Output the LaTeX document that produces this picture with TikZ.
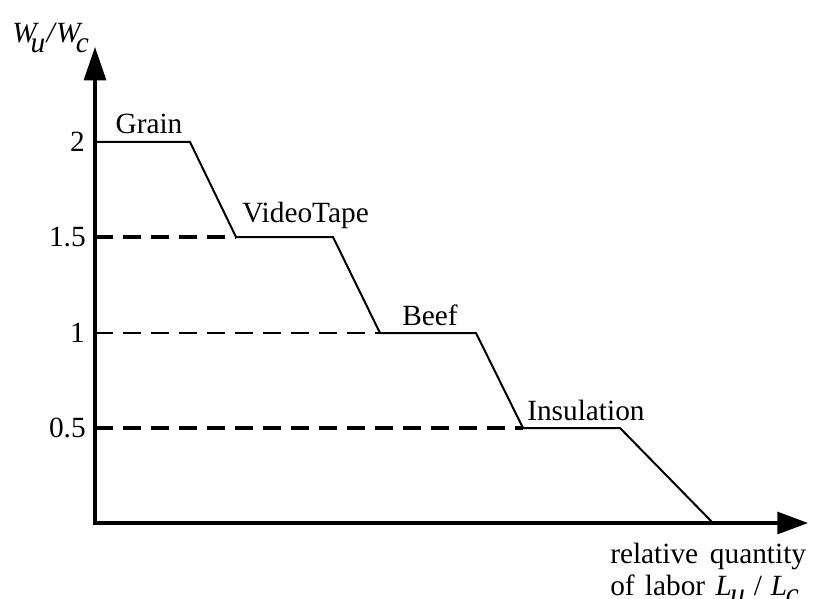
\documentclass[tikz,border=0pt]{standalone}
\usepackage{fontspec}
\setmainfont{Liberation Serif}
\usetikzlibrary{arrows.meta}
\begin{document}
\begin{tikzpicture}[x=0.75pt,y=-0.75pt,
  axis/.style={line width=2.3pt,line join=miter,{Triangle[length=25pt,width=16.5pt]}-{Triangle[length=23pt,width=16.5pt]}},
  curve/.style={line width=1.5pt,line join=miter},
  guide/.style={line width=2.8pt,dash pattern=on 13.5pt off 7.5pt},
  guidethin/.style={line width=1.9pt,dash pattern=on 13.5pt off 7.5pt},
  lbl/.style={font=\fontsize{22}{26}\selectfont,inner sep=0pt},
]
\useasboundingbox (0,0) rectangle (814,599);
% axes
\coordinate (O) at (95,523);
\coordinate (ytop) at (95,47);
\coordinate (xend) at (808,523);
\draw[axis] (ytop) -- (O) -- (xend);
% curve corners
\coordinate (g0) at (95,142);
\coordinate (g1) at (190,142);
\coordinate (v0) at (236,237);
\coordinate (v1) at (333,237);
\coordinate (b0) at (380,333);
\coordinate (b1) at (476,333);
\coordinate (i0) at (523,428);
\coordinate (i1) at (620,428);
\coordinate (e)  at (713,523);
\draw[curve] (g0) -- (g1) -- (v0) -- (v1) -- (b0) -- (b1) -- (i0) -- (i1) -- (e);
% dashed guides
\coordinate (d15) at (95,237);
\coordinate (d1) at (95,333);
\coordinate (d05) at (95,428);
\draw[guide] (d15) -- (v0);
\draw[guidethin] (d1) -- (b0);
\draw[guide] (d05) -- (i0);
% tick labels
\node[lbl,anchor=east] (t2) at (85,142) {2};
\node[lbl,anchor=east] (t15) at (86,237) {1.5};
\node[lbl,anchor=east] (t1) at (85,333) {1};
\node[lbl,anchor=east] (t05) at (86,428) {0.5};
% segment labels
\node[lbl,anchor=base] (grain) at (149,134) {Grain};
\node[lbl,anchor=base west] (video) at (242,223) {VideoTape};
\node[lbl,anchor=base west] (beef) at (402,325) {Beef};
\node[lbl,anchor=base west] (insul) at (527,420) {Insulation};
% axis labels
\node[lbl,anchor=base west] (ylab) at (12,43) {\itshape W\kern-4.5pt\raisebox{-7.5pt}{u}\kern1pt/\kern1pt W\kern-3.5pt\raisebox{-7.5pt}{c}};
\node[lbl,anchor=base west] (xlab1) at (610,563) {relative\hspace{0.4em}quantity};
\node[lbl,anchor=base west] (xlab2) at (610,595) {of\hspace{0.35em}labor\hspace{0.35em}\textit{L}\kern-1pt\raisebox{-6pt}{\itshape u}\hspace{0.3em}/\hspace{0.3em}\textit{L}\kern-1pt\raisebox{-6pt}{\itshape c}};
\end{tikzpicture}
\end{document}
